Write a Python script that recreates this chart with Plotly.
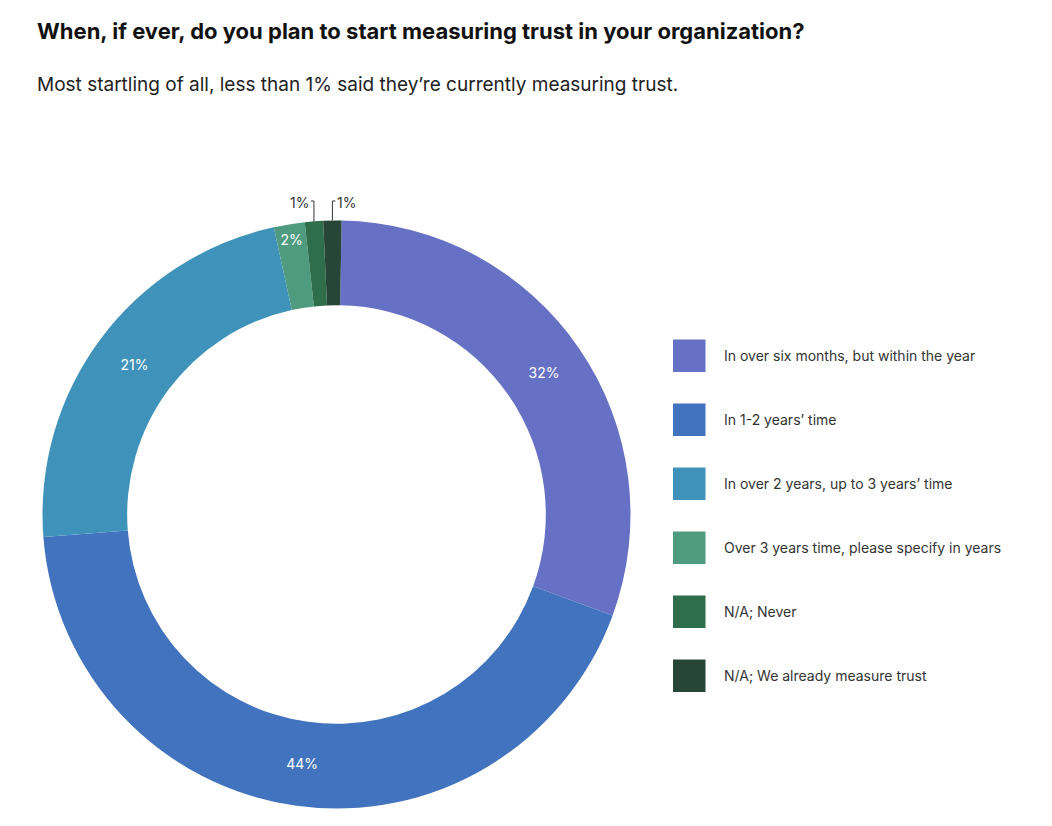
import math
import plotly.graph_objects as go

# ---- data ----
categories = [
    "In over six months, but within the year",
    "In 1-2 years\u2019 time",
    "In over 2 years, up to 3 years\u2019 time",
    "Over 3 years time, please specify in years",
    "N/A; Never",
    "N/A; We already measure trust",
]
values = [30.3, 43.2, 22.8, 1.7, 1.0, 1.0]          # slice sizes read from the ring
value_labels = ["32%", "44%", "21%", "2%", "1%", "1%"]  # labels printed on the chart
colors = ["#6670C4", "#4273BE", "#3F93BB", "#4E9B80", "#2F6E4A", "#274637"]
outside_side = [0, 0, 0, 0, -1, 1]   # 0 = inside label, -1/1 = outside label to left/right

OFF = 8  # page body margin
W, H = 1052 - 2 * OFF, 826 - 2 * OFF
cx, cy, R = 336.5 - OFF, 514.5 - OFF, 294.0   # ring centre / radius in px
rotation = 1.0

def px_x(x):
    return x / W

def px_y(y):
    return 1 - y / H

FONT = "Inter, Roboto, sans-serif"

fig = go.Figure()
fig.add_trace(go.Pie(
    labels=categories,
    values=values,
    text=[("" if s else t) for t, s in zip(value_labels, outside_side)],
    textinfo="text",
    textposition="inside",
    insidetextorientation="horizontal",
    textfont=dict(color="white", size=14, family=FONT),
    marker=dict(colors=colors, line=dict(width=0)),
    hole=0.712,
    sort=False,
    direction="clockwise",
    rotation=rotation,
    showlegend=False,
    automargin=False,
    domain=dict(x=[px_x(cx - R), px_x(cx + R)], y=[px_y(cy + R), px_y(cy - R)]),
    hoverinfo="label+text",
))

shapes = []
annotations = []

# outside labels with hooked leader lines for the tiny slices
total = sum(values)
cum = 0.0
for v, lab, side in zip(values, value_labels, outside_side):
    mid = rotation + (cum + v / 2) / total * 360.0
    cum += v
    if not side:
        continue
    a = math.radians(mid)
    x_edge = cx + R * math.sin(a)
    y_edge = cy - R * math.cos(a)
    y_top = 201 - OFF
    shapes.append(dict(type="line", xref="paper", yref="paper",
                       x0=px_x(x_edge), x1=px_x(x_edge),
                       y0=px_y(y_edge), y1=px_y(y_top),
                       line=dict(color="#333333", width=1)))
    shapes.append(dict(type="line", xref="paper", yref="paper",
                       x0=px_x(x_edge), x1=px_x(x_edge + side * 3),
                       y0=px_y(y_top), y1=px_y(y_top),
                       line=dict(color="#333333", width=1)))
    annotations.append(dict(
        xref="paper", yref="paper",
        x=px_x(x_edge + side * 3), y=px_y(y_top + 2),
        xanchor="right" if side < 0 else "left", yanchor="middle",
        text=lab, showarrow=False,
        font=dict(size=14, color="#333333", family=FONT)))

# legend built from categories/colours
leg_x0, leg_y0, sq, step = 673 - OFF, 339.5 - OFF, 32.5, 64
for i, (cat, col) in enumerate(zip(categories, colors)):
    y0 = leg_y0 + i * step
    shapes.append(dict(type="rect", xref="paper", yref="paper",
                       x0=px_x(leg_x0), x1=px_x(leg_x0 + sq),
                       y0=px_y(y0 + sq), y1=px_y(y0),
                       fillcolor=col, line=dict(width=0)))
    annotations.append(dict(
        xref="paper", yref="paper",
        x=px_x(722 - OFF), y=px_y(y0 + sq / 2),
        xanchor="left", yanchor="middle",
        text=cat, showarrow=False,
        font=dict(size=14, color="#333333", family=FONT)))

# title + subtitle
annotations.append(dict(
    xref="paper", yref="paper", x=px_x(35 - OFF), y=px_y(31 - OFF),
    xanchor="left", yanchor="middle", showarrow=False,
    text="<b>When, if ever, do you plan to start measuring trust in your organization?</b>",
    font=dict(size=22, color="#111111", family=FONT)))
annotations.append(dict(
    xref="paper", yref="paper", x=px_x(35 - OFF), y=px_y(84 - OFF),
    xanchor="left", yanchor="middle", showarrow=False,
    text="Most startling of all, less than 1% said they\u2019re currently measuring trust.",
    font=dict(size=19, color="#222222", family=FONT)))

fig.update_layout(
    width=W, height=H,
    margin=dict(l=0, r=0, t=0, b=0),
    paper_bgcolor="white",
    plot_bgcolor="white",
    shapes=shapes,
    annotations=annotations,
    uniformtext=dict(minsize=14, mode="show"),
)

fig.write_html("out.html")
